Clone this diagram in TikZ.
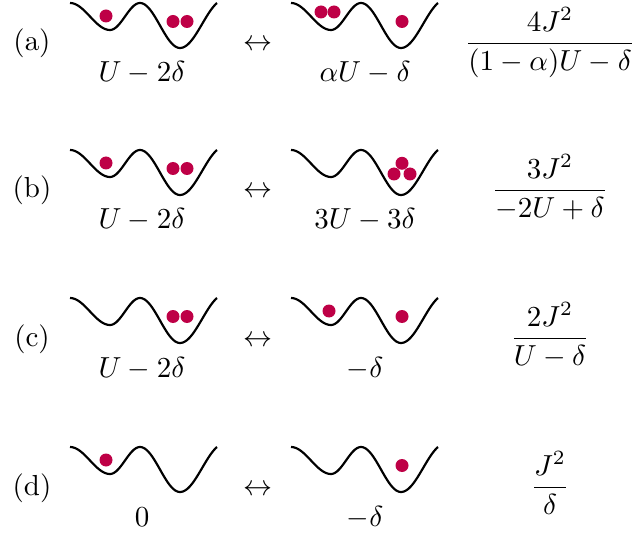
\documentclass[tikz,border=0pt]{standalone}
\usepackage{amsmath}
\definecolor{dotred}{RGB}{190,0,70}
\begin{document}
\begin{tikzpicture}[x=0.345pt,y=-0.345pt,
  wellline/.style={line width=0.75pt,line join=round},
  lab/.style={anchor=base,inner sep=0pt},
  dw/.pic={\draw[wellline]
     plot[domain=0:40,samples=25] (\x,{13.5*(1-cos(\x/40*180))})
  -- plot[domain=40:70,samples=20] (\x,{13.5*(1-cos(180+(\x-40)/30*180))})
  -- plot[domain=70:110,samples=25] (\x,{22.5*(1-cos((\x-70)/40*180))})
  -- plot[domain=110:147,samples=25] (\x,{45-45*(1-cos((\x-110)/37*150))/1.866});}
]
\useasboundingbox (0,0) rectangle (641,539);
\newcommand{\dotat}[2]{\fill[dotred] (#1,#2) circle[radius=6.5];}
% Row (a)
\node[lab] (la) at (32,51) {(a)};
\pic at (70,3) {dw};
\pic at (291,3) {dw};
\dotat{106}{16}\dotat{173}{21.5}\dotat{187}{21.5}
\dotat{321}{12}\dotat{334}{12}\dotat{402}{21.5}
\node[lab] (ea1) at (142,82) {$U-2\delta$};
\node[lab] (ara) at (258,51) {$\leftrightarrow$};
\node[lab] (ea2) at (365,82) {$\alpha U-\delta$};
\node[lab] (fa) at (550,51) {$\dfrac{4J^2}{(1-\alpha)U-\delta}$};
% Row (b)
\begin{scope}[shift={(0,147)}]
\node[lab] (lb) at (32,51) {(b)};
\pic at (70,3) {dw};
\pic at (291,3) {dw};
\dotat{106}{16}\dotat{173}{21.5}\dotat{187}{21.5}
\dotat{402}{16.3}\dotat{394}{27}\dotat{410}{27}
\node[lab] (eb1) at (142,82) {$U-2\delta$};
\node[lab] (arb) at (258,51) {$\leftrightarrow$};
\node[lab] (eb2) at (365,82) {$3U-3\delta$};
\node[lab] (fb) at (550,51) {$\dfrac{3J^2}{-2U+\delta}$};
\end{scope}
% Row (c)
\begin{scope}[shift={(0,295)}]
\node[lab] (lc) at (32,51) {(c)};
\pic at (70,3) {dw};
\pic at (291,3) {dw};
\dotat{173}{21.5}\dotat{187}{21.5}
\dotat{329}{16}\dotat{402}{21.5}
\node[lab] (ec1) at (142,82) {$U-2\delta$};
\node[lab] (arc) at (258,51) {$\leftrightarrow$};
\node[lab] (ec2) at (365,82) {$-\delta$};
\node[lab] (fc) at (550,51) {$\dfrac{2J^2}{U-\delta}$};
\end{scope}
% Row (d)
\begin{scope}[shift={(0,444)}]
\node[lab] (ld) at (32,51) {(d)};
\pic at (70,3) {dw};
\pic at (291,3) {dw};
\dotat{106}{16}
\dotat{402}{21.5}
\node[lab] (ed1) at (142,82) {$0$};
\node[lab] (ard) at (258,51) {$\leftrightarrow$};
\node[lab] (ed2) at (365,82) {$-\delta$};
\node[lab] (fd) at (550,51) {$\dfrac{J^2}{\delta}$};
\end{scope}
\end{tikzpicture}
\end{document}
